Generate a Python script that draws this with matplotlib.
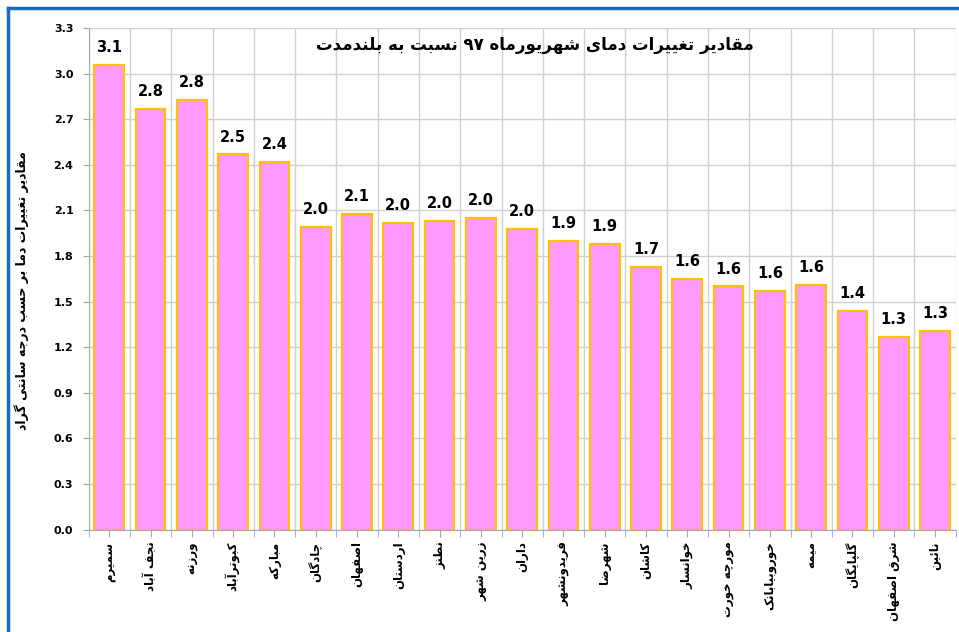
import re
import numpy as np
import matplotlib
matplotlib.use('Agg')
import matplotlib.pyplot as plt
from matplotlib.lines import Line2D

title = 'مقادیر تغییرات دمای شهریورماه ۹۷ نسبت به بلندمدت'
ylabel = 'مقادیر تغییرات دما بر حسب درجه سانتی گراد'
stations = ['سمیرم', 'نجف آباد', 'ورزنه', 'کبوترآباد', 'مبارکه', 'چادگان',
            'اصفهان', 'اردستان', 'نطنز', 'زرین شهر', 'داران', 'فریدونشهر',
            'شهرضا', 'کاشان', 'خوانسار', 'مورچه خورت', 'خوروبیابانک', 'میمه',
            'گلپایگان', 'شرق اصفهان', 'نائین']
values = [3.06, 2.77, 2.83, 2.47, 2.42, 1.99, 2.08, 2.02, 2.03, 2.05, 1.98,
          1.90, 1.88, 1.73, 1.65, 1.60, 1.57, 1.61, 1.44, 1.27, 1.31]
yticks = [0.0, 0.3, 0.6, 0.9, 1.2, 1.5, 1.8, 2.1, 2.4, 2.7, 3.0, 3.3]

# presentation forms: isolated, final, initial, medial
FORMS = {
    'آ': (0xFE81, 0xFE82), 'ا': (0xFE8D, 0xFE8E), 'د': (0xFEA9, 0xFEAA),
    'ذ': (0xFEAB, 0xFEAC), 'ر': (0xFEAD, 0xFEAE), 'ز': (0xFEAF, 0xFEB0),
    'ژ': (0xFB8A, 0xFB8B), 'و': (0xFEED, 0xFEEE),
    'ئ': (0xFE89, 0xFE8A, 0xFE8B, 0xFE8C), 'ب': (0xFE8F, 0xFE90, 0xFE91, 0xFE92),
    'پ': (0xFB56, 0xFB57, 0xFB58, 0xFB59), 'ت': (0xFE95, 0xFE96, 0xFE97, 0xFE98),
    'ج': (0xFE9D, 0xFE9E, 0xFE9F, 0xFEA0), 'چ': (0xFB7A, 0xFB7B, 0xFB7C, 0xFB7D),
    'ح': (0xFEA1, 0xFEA2, 0xFEA3, 0xFEA4), 'خ': (0xFEA5, 0xFEA6, 0xFEA7, 0xFEA8),
    'س': (0xFEB1, 0xFEB2, 0xFEB3, 0xFEB4), 'ش': (0xFEB5, 0xFEB6, 0xFEB7, 0xFEB8),
    'ص': (0xFEB9, 0xFEBA, 0xFEBB, 0xFEBC), 'ض': (0xFEBD, 0xFEBE, 0xFEBF, 0xFEC0),
    'ط': (0xFEC1, 0xFEC2, 0xFEC3, 0xFEC4), 'ظ': (0xFEC5, 0xFEC6, 0xFEC7, 0xFEC8),
    'ع': (0xFEC9, 0xFECA, 0xFECB, 0xFECC), 'غ': (0xFECD, 0xFECE, 0xFECF, 0xFED0),
    'ف': (0xFED1, 0xFED2, 0xFED3, 0xFED4), 'ق': (0xFED5, 0xFED6, 0xFED7, 0xFED8),
    'ک': (0xFB8E, 0xFB8F, 0xFB90, 0xFB91), 'گ': (0xFB92, 0xFB93, 0xFB94, 0xFB95),
    'ل': (0xFEDD, 0xFEDE, 0xFEDF, 0xFEE0), 'م': (0xFEE1, 0xFEE2, 0xFEE3, 0xFEE4),
    'ن': (0xFEE5, 0xFEE6, 0xFEE7, 0xFEE8), 'ه': (0xFEE9, 0xFEEA, 0xFEEB, 0xFEEC),
    'ی': (0xFBFC, 0xFBFD, 0xFBFE, 0xFBFF),
}


def fa(text):
    # minimal Persian shaping + right-to-left reordering
    out = []
    for i, c in enumerate(text):
        if c not in FORMS:
            out.append(c)
            continue
        prev = text[i - 1] if i > 0 else ''
        nxt = text[i + 1] if i + 1 < len(text) else ''
        jp = prev in FORMS and len(FORMS[prev]) == 4
        jn = len(FORMS[c]) == 4 and nxt in FORMS
        f = FORMS[c]
        if jp and jn:
            out.append(chr(f[3]))
        elif jp:
            out.append(chr(f[1]))
        elif jn:
            out.append(chr(f[2]))
        else:
            out.append(chr(f[0]))
    s = ''.join(out)
    parts = re.split(r'([0-9۰-۹]+)', s)
    return ''.join(p if re.fullmatch(r'[0-9۰-۹]+', p) else p[::-1]
                   for p in parts[::-1])


plt.rcParams['font.family'] = ['DejaVu Sans']

fig = plt.figure(figsize=(9.59, 6.32), dpi=100)
ax = fig.add_axes([0.0925, 0.162, 0.904, 0.7935])

x = np.arange(len(stations))
bars = ax.bar(x, values, width=0.72, color='#FF99FF', edgecolor='#FFC000',
              linewidth=1.6, zorder=3)
for b, v in zip(bars, values):
    ax.annotate(f'{v:.1f}', (b.get_x() + b.get_width() / 2, v),
                xytext=(0, 7), textcoords='offset points', ha='center',
                va='bottom', fontsize=10.5, fontweight='bold')

ax.set_xlim(-0.5, len(stations) - 0.5)
ax.set_ylim(0, 3.3)
ax.set_yticks(yticks)
ax.set_yticklabels([f'{t:.1f}' for t in yticks], fontsize=8, fontweight='bold')
ax.set_xticks(x)
ax.set_xticklabels([fa(s) for s in stations], rotation=90, fontsize=8.5,
                   fontweight='bold', va='top')
ax.set_xticks(np.arange(-0.5, len(stations)), minor=True)
ax.tick_params(axis='x', which='both', length=5, color='#A6A6A6')
ax.tick_params(axis='y', length=4, color='#A6A6A6', pad=7)
ax.grid(axis='y', color='#D0D0D0', linewidth=1, zorder=0)
ax.grid(axis='x', which='minor', color='#D0D0D0', linewidth=1, zorder=0)
for side in ['top', 'right']:
    ax.spines[side].set_visible(False)
for side in ['left', 'bottom']:
    ax.spines[side].set_color('#A6A6A6')

ax.text(0.515, 0.966, fa(title), transform=ax.transAxes, ha='center',
        va='center', fontsize=12, fontweight='bold')
fig.text(0.023, 0.54, fa(ylabel), rotation=90, ha='center', va='center',
         fontsize=9, fontweight='bold')

# blue frame (top and left edges visible)
fig.add_artist(Line2D([0.0085, 1.0], [0.987, 0.987], color='#1A6BBF',
                      linewidth=2.5, transform=fig.transFigure))
fig.add_artist(Line2D([0.0085, 0.0085], [0.0, 0.987], color='#1A6BBF',
                      linewidth=2.5, transform=fig.transFigure))

fig.savefig('out.png', dpi=100)
